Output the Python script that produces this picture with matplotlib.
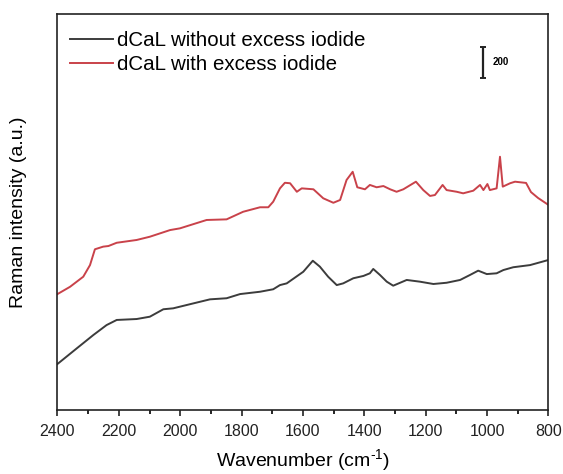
import matplotlib
matplotlib.use("Agg")
import matplotlib.pyplot as plt
from matplotlib.ticker import MultipleLocator

plt.rcParams['font.family'] = ['Liberation Sans', 'DejaVu Sans']
plt.rcParams['mathtext.fontset'] = 'custom'
plt.rcParams['mathtext.rm'] = 'Liberation Sans'
plt.rcParams['mathtext.it'] = 'Liberation Sans'
plt.rcParams['mathtext.sf'] = 'Liberation Sans'

# Wavenumber (cm-1) and intensity (a.u.)
wn_without = [2400, 2337, 2283, 2240, 2207, 2142, 2099, 2055, 2023, 1957, 1903,
              1849, 1805, 1740, 1697, 1675, 1653, 1599, 1568, 1545, 1518, 1490,
              1469, 1436, 1403, 1382, 1371, 1349, 1327, 1306, 1262, 1219, 1175,
              1132, 1088, 1056, 1029, 1001, 969, 947, 915, 860, 800]
int_without = [297, 398, 484, 548, 581, 587, 602, 650, 656, 688, 714,
               721, 748, 763, 779, 806, 817, 892, 963, 925, 860, 806,
               817, 850, 865, 882, 910, 871, 828, 802, 839, 828, 813,
               821, 839, 871, 899, 877, 882, 903, 921, 935, 968]

wn_with = [2400, 2359, 2316, 2294, 2278, 2251, 2234, 2207, 2142, 2099, 2033,
           2001, 1914, 1849, 1795, 1740, 1713, 1697, 1675, 1659, 1642, 1620,
           1604, 1566, 1534, 1501, 1479, 1458, 1438, 1423, 1398, 1382, 1360,
           1338, 1316, 1295, 1273, 1232, 1208, 1186, 1170, 1145, 1132, 1099,
           1078, 1045, 1023, 1012, 999, 991, 969, 958, 949, 925, 909, 873,
           857, 834, 800]
int_with = [748, 795, 860, 935, 1037, 1054, 1058, 1079, 1097, 1118, 1161,
            1172, 1226, 1230, 1279, 1308, 1308, 1344, 1430, 1466, 1463, 1408,
            1430, 1424, 1366, 1337, 1355, 1484, 1537, 1437, 1424, 1452, 1437,
            1445, 1424, 1408, 1424, 1473, 1419, 1381, 1387, 1452, 1419, 1408,
            1398, 1415, 1452, 1419, 1458, 1419, 1430, 1634, 1441, 1463, 1473, 1465,
            1406, 1368, 1323]

labels = ["dCaL without excess iodide", "dCaL with excess iodide"]
scale_value = 200

fig = plt.figure(figsize=(5.63, 4.74), dpi=100)
ax = fig.add_axes([0.1021, 0.135, 0.8721, 0.8355])

ax.plot(wn_without, int_without, color="#3c3c3c", lw=1.4, label=labels[0])
ax.plot(wn_with, int_with, color="#c9424a", lw=1.4, label=labels[1])

ax.set_xlim(2400, 800)
ax.set_ylim(0, 2555)
ax.xaxis.set_major_locator(MultipleLocator(200))
ax.xaxis.set_minor_locator(MultipleLocator(100))
ax.set_yticks([])
ax.tick_params(axis='x', which='major', direction='out', length=4, width=1.2,
               labelsize=11.5, pad=6, colors='#222222')
ax.tick_params(axis='x', which='minor', direction='out', length=3, width=1.2)
for s in ax.spines.values():
    s.set_linewidth(1.2)
    s.set_color('#222222')

ax.set_xlabel("Wavenumber (cm$^{\\text{-1}}$)", fontsize=14, labelpad=6)
ax.set_ylabel("Raman intensity (a.u.)", fontsize=14)
ax.yaxis.set_label_coords(-0.062, 0.5)

# scale bar
x_bar = 1013
y0 = 2142
ax.errorbar([x_bar], [y0 + scale_value / 2], yerr=[scale_value / 2], color="#222222",
            capsize=2.5, elinewidth=1.6, capthick=1.4)
ax.text(981, y0 + scale_value / 2, str(scale_value), fontsize=7, fontweight='bold',
        va='center', ha='left')

leg = ax.legend(loc='upper left', frameon=False, fontsize=14.8, handlelength=2.1,
                handletextpad=0.2, borderaxespad=0.2, labelspacing=0.22,
                bbox_to_anchor=(0.0, 0.987))

fig.savefig("out.png", dpi=100)
